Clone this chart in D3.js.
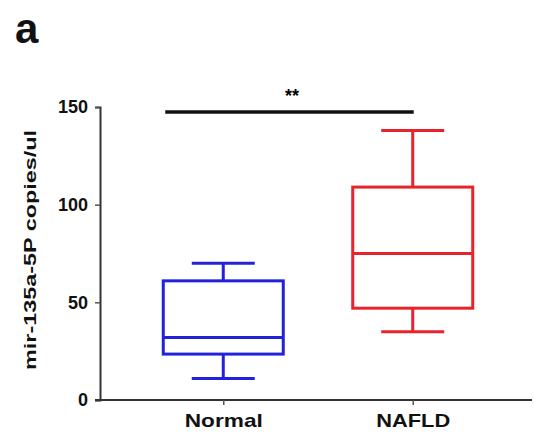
<!DOCTYPE html>
<html>
<head>
<meta charset="utf-8">
<script src="https://cdn.jsdelivr.net/npm/d3@7"></script>
<style>
  body { margin: 0; background: #fff; }
  text { font-family: Arial, "Liberation Sans", sans-serif; font-weight: bold; }
</style>
</head>
<body>
<div id="chart"></div>
<script>
// box plot values
const groups = ['Normal', 'NAFLD']
const whiskerMin = [11, 35]
const q1 = [23.5, 47]
const median = [32, 75]
const q3 = [61, 109]
const whiskerMax = [70, 138]
const colors = ['#2222dd', '#e8232c']
const yTicks = [0, 50, 100, 150]
const sigLevel = 147.5
const sigLabel = '**'

const width = 535
const height = 435

const svg = d3.select('#chart').append('svg')
  .attr('width', width)
  .attr('height', height)

const y = d3.scaleLinear().domain([0, 150]).range([400, 107])
const x = d3.scalePoint().domain(groups).range([102, 534]).padding(0.64)

const boxW = 120
const capW = 63

// y axis
const yAxis = svg.append('g')
  .attr('transform', 'translate(100,0)')
  .call(d3.axisLeft(y).tickValues(yTicks).tickSize(5).tickSizeOuter(5).tickPadding(7))
yAxis.select('.domain').attr('stroke', '#333').attr('stroke-width', 2)
yAxis.selectAll('.tick line').attr('stroke', '#555').attr('stroke-width', 1.5)
yAxis.selectAll('.tick text').attr('font-size', 18).attr('fill', '#111')

// x axis
const xAxis = svg.append('g')
  .attr('transform', 'translate(0,400)')
  .call(d3.axisBottom(x).tickSize(5).tickSizeOuter(0).tickPadding(9))
xAxis.select('.domain').attr('stroke', '#333').attr('stroke-width', 2)
  .attr('d', 'M95,0H532')
xAxis.selectAll('.tick line').attr('stroke', '#555').attr('stroke-width', 1.5)
xAxis.selectAll('.tick text').attr('font-size', 19).attr('fill', '#111')
  .attr('textLength', d => d === 'Normal' ? 78 : 74)
  .attr('lengthAdjust', 'spacingAndGlyphs')

// boxes
const box = svg.append('g').selectAll('g')
  .data(groups)
  .join('g')
  .attr('stroke', (d, i) => colors[i])
  .attr('stroke-width', 3)
  .attr('fill', 'none')

box.append('line')
  .attr('x1', d => x(d)).attr('x2', d => x(d))
  .attr('y1', (d, i) => y(whiskerMax[i])).attr('y2', (d, i) => y(q3[i]))
box.append('line')
  .attr('x1', d => x(d)).attr('x2', d => x(d))
  .attr('y1', (d, i) => y(q1[i])).attr('y2', (d, i) => y(whiskerMin[i]))
box.append('line')
  .attr('x1', d => x(d) - capW / 2).attr('x2', d => x(d) + capW / 2)
  .attr('y1', (d, i) => y(whiskerMax[i])).attr('y2', (d, i) => y(whiskerMax[i]))
box.append('line')
  .attr('x1', d => x(d) - capW / 2).attr('x2', d => x(d) + capW / 2)
  .attr('y1', (d, i) => y(whiskerMin[i])).attr('y2', (d, i) => y(whiskerMin[i]))
box.append('rect')
  .attr('x', d => x(d) - boxW / 2)
  .attr('width', boxW)
  .attr('y', (d, i) => y(q3[i]))
  .attr('height', (d, i) => y(q1[i]) - y(q3[i]))
box.append('line')
  .attr('x1', d => x(d) - boxW / 2).attr('x2', d => x(d) + boxW / 2)
  .attr('y1', (d, i) => y(median[i])).attr('y2', (d, i) => y(median[i]))

// significance bar
svg.append('line')
  .attr('x1', x(groups[0]) - 58).attr('x2', x(groups[1]) + 1)
  .attr('y1', y(sigLevel)).attr('y2', y(sigLevel))
  .attr('stroke', '#111').attr('stroke-width', 3.5)
svg.append('text')
  .attr('x', (x(groups[0]) - 58 + x(groups[1])) / 2 + 3)
  .attr('y', y(sigLevel) - 10)
  .attr('text-anchor', 'middle')
  .attr('font-size', 18)
  .text(sigLabel)

// y label
svg.append('text')
  .attr('transform', 'translate(36,250) rotate(-90)')
  .attr('text-anchor', 'middle')
  .attr('font-size', 17)
  .attr('fill', '#111')
  .attr('textLength', 240)
  .attr('lengthAdjust', 'spacingAndGlyphs')
  .text('mir-135a-5P copies/ul')

// panel letter
svg.append('text')
  .attr('x', 15)
  .attr('y', 43)
  .attr('font-size', 42)
  .attr('fill', '#111')
  .text('a')
</script>
</body>
</html>
